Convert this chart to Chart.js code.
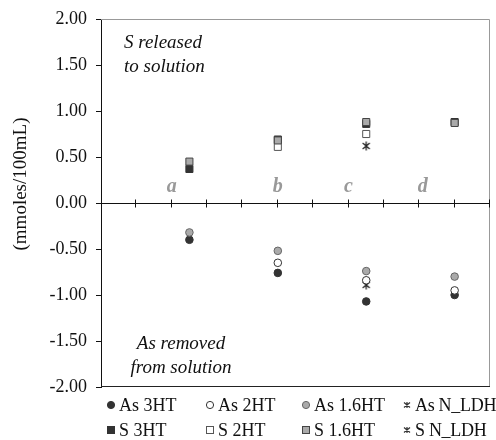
<!DOCTYPE html>
<html>
<head>
<meta charset="utf-8">
<script src="https://cdn.jsdelivr.net/npm/chart.js@4"></script>
<style>
  body { margin: 0; background: #fff; }
  #wrap { position: relative; width: 496px; height: 440px; overflow: hidden; }
  #box { position: absolute; left: 0; top: 0; width: 496px; height: 400px; }
  .leg { position: absolute; font-family: 'Liberation Serif', serif; font-size: 18px; color: #111; white-space: nowrap; line-height: 20px; }
  .leg svg { vertical-align: middle; margin-right: 3px; position: relative; top: -2px; }
</style>
</head>
<body>
<div id="wrap">
  <div id="box"><canvas id="myChart" width="496" height="400"></canvas></div>
  <div id="legend"></div>
</div>
<script>
// posisi sampel a, b, c, d pada sumbu x
const xPos = [2.5, 5, 7.5, 10];
const groupLabels = ['a', 'b', 'c', 'd'];
const groupLabelX = [2, 5, 7, 9.1];

// As (negatif) dan S (positif), mmoles/100mL
const as3HT = [-0.40, -0.76, -1.07, -1.00];
const as2HT = [null, -0.65, -0.84, -0.95];
const as16HT = [-0.32, -0.52, -0.74, -0.80];
const asNLDH = [null, null, -0.89, null];
const s3HT = [0.37, 0.69, 0.86, 0.88];
const s2HT = [null, 0.61, 0.75, null];
const s16HT = [0.45, 0.68, 0.88, 0.87];
const sNLDH = [null, null, 0.62, null];

const yTicks = [2, 1.5, 1, 0.5, 0, -0.5, -1, -1.5, -2];

const dark = '#333333';
const gray = '#aaaaaa';

const toPts = arr => xPos.map((x, i) => ({ x: x, y: arr[i] })).filter(p => p.y !== null);

// simbol bintang (X + garis tegak) seperti di gambar asli
const starImg = document.createElement('canvas');
starImg.width = 10;
starImg.height = 10;
(function() {
    const c = starImg.getContext('2d');
    c.strokeStyle = '#222';
    c.lineWidth = 1.3;
    c.beginPath();
    c.moveTo(1.5, 2); c.lineTo(8.5, 8);
    c.moveTo(8.5, 2); c.lineTo(1.5, 8);
    c.moveTo(5, 0.5); c.lineTo(5, 9.5);
    c.stroke();
})();

const series = [
    { label: 'As 3HT', data: as3HT, style: 'circle', bg: dark, border: dark, order: 3 },
    { label: 'As 2HT', data: as2HT, style: 'circle', bg: '#ffffff', border: dark, order: 2 },
    { label: 'As 1.6HT', data: as16HT, style: 'circle', bg: gray, border: '#666', order: 1 },
    { label: 'As N_LDH', data: asNLDH, style: 'star', bg: dark, border: dark, order: 4 },
    { label: 'S 3HT', data: s3HT, style: 'rect', bg: dark, border: dark, order: 3 },
    { label: 'S 2HT', data: s2HT, style: 'rect', bg: '#ffffff', border: '#555', order: 2 },
    { label: 'S 1.6HT', data: s16HT, style: 'rect', bg: gray, border: '#444', order: 1 },
    { label: 'S N_LDH', data: sNLDH, style: 'star', bg: dark, border: dark, order: 4 }
];

// plugin untuk bingkai, garis nol, huruf a-d dan teks keterangan
const extras = {
    id: 'extras',
    afterDraw(chart) {
        const ctx = chart.ctx;
        const a = chart.chartArea;
        const xs = chart.scales.x;
        const ys = chart.scales.y;
        ctx.save();
        ctx.lineWidth = 1;
        ctx.strokeStyle = '#999';
        ctx.beginPath();
        ctx.moveTo(a.left, a.top + 0.5);
        ctx.lineTo(a.right - 0.5, a.top + 0.5);
        ctx.lineTo(a.right - 0.5, a.bottom);
        ctx.stroke();
        ctx.strokeStyle = '#222';
        ctx.beginPath();
        ctx.moveTo(a.left, a.bottom - 0.5);
        ctx.lineTo(a.right, a.bottom - 0.5);
        ctx.stroke();

        // sumbu x di y = 0
        const y0 = Math.round(ys.getPixelForValue(0)) + 0.5;
        ctx.strokeStyle = '#111';
        ctx.beginPath();
        ctx.moveTo(a.left, y0);
        ctx.lineTo(a.right, y0);
        for (let v = 1; v <= 11; v++) {
            const px = Math.round(xs.getPixelForValue(v)) - 0.5;
            ctx.moveTo(px, y0 - 4);
            ctx.lineTo(px, y0 + 4);
        }
        ctx.stroke();

        ctx.fillStyle = '#999';
        ctx.font = 'italic bold 20px "Liberation Serif"';
        ctx.textAlign = 'center';
        ctx.textBaseline = 'alphabetic';
        groupLabels.forEach((t, i) => {
            ctx.fillText(t, xs.getPixelForValue(groupLabelX[i]), ys.getPixelForValue(0.12));
        });

        ctx.fillStyle = '#111';
        ctx.font = 'italic 19px "Liberation Serif"';
        ctx.textAlign = 'left';
        ctx.fillText('S released', a.left + 23, a.top + 29);
        ctx.fillText('to solution', a.left + 23, a.top + 53);
        ctx.textAlign = 'center';
        ctx.fillText('As removed', a.left + 80, a.bottom - 38);
        ctx.fillText('from solution', a.left + 80, a.bottom - 14);

        ctx.translate(21, 184);
        ctx.rotate(-Math.PI / 2);
        ctx.font = '19px "Liberation Serif"';
        ctx.textBaseline = 'middle';
        ctx.fillText('(mmoles/100mL)', 0, 0);
        ctx.restore();
    }
};

const ctx = document.getElementById('myChart').getContext('2d');
const myChart = new Chart(ctx, {
    type: 'scatter',
    data: {
        datasets: series.map(s => ({
            label: s.label,
            data: toPts(s.data),
            pointStyle: s.style === 'star' ? starImg : s.style,
            pointRadius: s.style === 'rect' ? 5 : 3.8,
            pointBackgroundColor: s.bg,
            pointBorderColor: s.border,
            pointBorderWidth: 1,
            order: s.order
        }))
    },
    options: {
        responsive: false,
        animation: false,
        devicePixelRatio: 1,
        layout: { padding: { top: 19, right: 2, bottom: 13, left: 0 } },
        plugins: {
            legend: { display: false },
            tooltip: { enabled: false }
        },
        scales: {
            x: {
                type: 'linear',
                min: 0,
                max: 11,
                display: false
            },
            y: {
                min: -2,
                max: 2,
                afterFit: scale => {
                    scale.width = 101;
                    scale.paddingTop = 0;
                    scale.paddingBottom = 0;
                },
                afterBuildTicks: scale => { scale.ticks = yTicks.map(v => ({ value: v })); },
                ticks: {
                    color: '#111',
                    padding: 9,
                    font: { family: 'Liberation Serif', size: 18 },
                    callback: v => v.toFixed(2)
                },
                grid: {
                    drawOnChartArea: false,
                    drawTicks: true,
                    tickLength: 5,
                    color: '#111'
                },
                border: { color: '#111', width: 1 }
            }
        }
    },
    plugins: [extras]
});

// legenda HTML 4 kolom x 2 baris
const legCols = [106, 205, 301, 402];
const legRows = [395, 420];
function markerSvg(s) {
    let inner;
    if (s.style === 'circle') {
        inner = `<circle cx="5" cy="5" r="3.6" fill="${s.bg}" stroke="${s.border}" stroke-width="1"/>`;
    } else if (s.style === 'rect') {
        inner = `<rect x="1.5" y="1.5" width="7" height="7" fill="${s.bg}" stroke="${s.border}" stroke-width="1"/>`;
    } else {
        inner = `<path d="M2 2.5L8 7.5M8 2.5L2 7.5M5 2L5 8" stroke="${s.border}" stroke-width="1.2"/>`;
    }
    return `<svg width="10" height="10">${inner}</svg>`;
}
const legend = document.getElementById('legend');
series.forEach((s, i) => {
    const d = document.createElement('div');
    d.className = 'leg';
    d.style.left = legCols[i % 4] + 'px';
    d.style.top = legRows[Math.floor(i / 4)] + 'px';
    d.innerHTML = markerSvg(s) + s.label;
    if (s.style === 'star') d.style.letterSpacing = '-0.3px';
    legend.appendChild(d);
});
</script>
</body>
</html>
